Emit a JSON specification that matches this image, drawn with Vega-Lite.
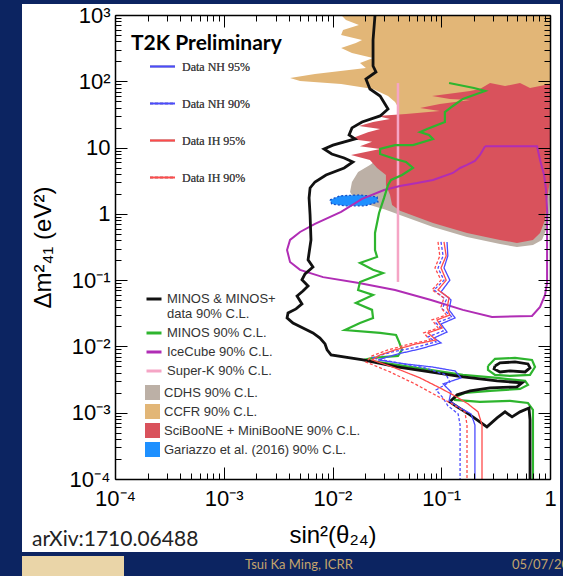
{
"$schema":"https://vega.github.io/schema/vega-lite/v6.json",
"width":435,"height":464,
"autosize":{"type":"none"},
"padding":{"left":115,"top":15,"right":13,"bottom":97},
"background":"#0c2461",
"datasets":{
"ccfr":[
{"experiment":"CCFR 90% C.L.","sin2":0.012,"dm2":1000},{"experiment":"CCFR 90% C.L.","sin2":0.0133,"dm2":841},{"experiment":"CCFR 90% C.L.","sin2":0.0175,"dm2":707},{"experiment":"CCFR 90% C.L.","sin2":0.0125,"dm2":594},{"experiment":"CCFR 90% C.L.","sin2":0.012,"dm2":499},{"experiment":"CCFR 90% C.L.","sin2":0.0187,"dm2":420},{"experiment":"CCFR 90% C.L.","sin2":0.0164,"dm2":378},{"experiment":"CCFR 90% C.L.","sin2":0.012,"dm2":318},{"experiment":"CCFR 90% C.L.","sin2":0.0151,"dm2":268},{"experiment":"CCFR 90% C.L.","sin2":0.0236,"dm2":225},{"experiment":"CCFR 90% C.L.","sin2":0.0179,"dm2":189},{"experiment":"CCFR 90% C.L.","sin2":0.0203,"dm2":159},{"experiment":"CCFR 90% C.L.","sin2":0.0069,"dm2":129},{"experiment":"CCFR 90% C.L.","sin2":0.00407,"dm2":112},{"experiment":"CCFR 90% C.L.","sin2":0.00503,"dm2":101},{"experiment":"CCFR 90% C.L.","sin2":0.012,"dm2":91},{"experiment":"CCFR 90% C.L.","sin2":0.0236,"dm2":76.5},{"experiment":"CCFR 90% C.L.","sin2":0.0324,"dm2":60},{"experiment":"CCFR 90% C.L.","sin2":0.0376,"dm2":48.7},{"experiment":"CCFR 90% C.L.","sin2":0.04,"dm2":40.9},{"experiment":"CCFR 90% C.L.","sin2":0.0417,"dm2":15.5},{"experiment":"CCFR 90% C.L.","sin2":1,"dm2":15.5},{"experiment":"CCFR 90% C.L.","sin2":1,"dm2":1000}],
"cdhs":[
{"experiment":"CDHS 90% C.L.","sin2":0.0338,"dm2":9.2},{"experiment":"CDHS 90% C.L.","sin2":1,"dm2":9.2},{"experiment":"CDHS 90% C.L.","sin2":1,"dm2":1.62},{"experiment":"CDHS 90% C.L.","sin2":0.96,"dm2":0.68},{"experiment":"CDHS 90% C.L.","sin2":0.844,"dm2":0.404},{"experiment":"CDHS 90% C.L.","sin2":0.697,"dm2":0.34},{"experiment":"CDHS 90% C.L.","sin2":0.497,"dm2":0.317},{"experiment":"CDHS 90% C.L.","sin2":0.347,"dm2":0.351},{"experiment":"CDHS 90% C.L.","sin2":0.1725,"dm2":0.448},{"experiment":"CDHS 90% C.L.","sin2":0.084,"dm2":0.635},{"experiment":"CDHS 90% C.L.","sin2":0.0417,"dm2":0.963},{"experiment":"CDHS 90% C.L.","sin2":0.0304,"dm2":1.16},{"experiment":"CDHS 90% C.L.","sin2":0.0221,"dm2":1.36},{"experiment":"CDHS 90% C.L.","sin2":0.0161,"dm2":1.62},{"experiment":"CDHS 90% C.L.","sin2":0.0145,"dm2":2.14},{"experiment":"CDHS 90% C.L.","sin2":0.0151,"dm2":3.03},{"experiment":"CDHS 90% C.L.","sin2":0.0172,"dm2":4.29},{"experiment":"CDHS 90% C.L.","sin2":0.0221,"dm2":5.47},{"experiment":"CDHS 90% C.L.","sin2":0.0338,"dm2":9.2}],
"sbmb":[
{"experiment":"SciBooNE + MiniBooNE 90% C.L.","sin2":1,"dm2":91},{"experiment":"SciBooNE + MiniBooNE 90% C.L.","sin2":0.655,"dm2":79.2},{"experiment":"SciBooNE + MiniBooNE 90% C.L.","sin2":0.53,"dm2":94.3},{"experiment":"SciBooNE + MiniBooNE 90% C.L.","sin2":0.386,"dm2":84.9},{"experiment":"SciBooNE + MiniBooNE 90% C.L.","sin2":0.281,"dm2":94.3},{"experiment":"SciBooNE + MiniBooNE 90% C.L.","sin2":0.227,"dm2":76.5},{"experiment":"SciBooNE + MiniBooNE 90% C.L.","sin2":0.184,"dm2":71.4},{"experiment":"SciBooNE + MiniBooNE 90% C.L.","sin2":0.134,"dm2":66.6},{"experiment":"SciBooNE + MiniBooNE 90% C.L.","sin2":0.0823,"dm2":60},{"experiment":"SciBooNE + MiniBooNE 90% C.L.","sin2":0.12,"dm2":54.1},{"experiment":"SciBooNE + MiniBooNE 90% C.L.","sin2":0.184,"dm2":52.2},{"experiment":"SciBooNE + MiniBooNE 90% C.L.","sin2":0.097,"dm2":45.5},{"experiment":"SciBooNE + MiniBooNE 90% C.L.","sin2":0.0638,"dm2":39.6},{"experiment":"SciBooNE + MiniBooNE 90% C.L.","sin2":0.097,"dm2":35.6},{"experiment":"SciBooNE + MiniBooNE 90% C.L.","sin2":0.0474,"dm2":32.1},{"experiment":"SciBooNE + MiniBooNE 90% C.L.","sin2":0.0257,"dm2":30},{"experiment":"SciBooNE + MiniBooNE 90% C.L.","sin2":0.0338,"dm2":27},{"experiment":"SciBooNE + MiniBooNE 90% C.L.","sin2":0.0236,"dm2":24.3},{"experiment":"SciBooNE + MiniBooNE 90% C.L.","sin2":0.0175,"dm2":21.2},{"experiment":"SciBooNE + MiniBooNE 90% C.L.","sin2":0.0274,"dm2":19.1},{"experiment":"SciBooNE + MiniBooNE 90% C.L.","sin2":0.0212,"dm2":17.1},{"experiment":"SciBooNE + MiniBooNE 90% C.L.","sin2":0.0145,"dm2":13.5},{"experiment":"SciBooNE + MiniBooNE 90% C.L.","sin2":0.0231,"dm2":12.2},{"experiment":"SciBooNE + MiniBooNE 90% C.L.","sin2":0.0179,"dm2":10.5},{"experiment":"SciBooNE + MiniBooNE 90% C.L.","sin2":0.0274,"dm2":9.53},{"experiment":"SciBooNE + MiniBooNE 90% C.L.","sin2":0.0148,"dm2":7.74},{"experiment":"SciBooNE + MiniBooNE 90% C.L.","sin2":0.0221,"dm2":6.5},{"experiment":"SciBooNE + MiniBooNE 90% C.L.","sin2":0.0257,"dm2":4.92},{"experiment":"SciBooNE + MiniBooNE 90% C.L.","sin2":0.031,"dm2":3.86},{"experiment":"SciBooNE + MiniBooNE 90% C.L.","sin2":0.031,"dm2":2.73},{"experiment":"SciBooNE + MiniBooNE 90% C.L.","sin2":0.0338,"dm2":1.93},{"experiment":"SciBooNE + MiniBooNE 90% C.L.","sin2":0.0353,"dm2":1.36},{"experiment":"SciBooNE + MiniBooNE 90% C.L.","sin2":0.0417,"dm2":1.11},{"experiment":"SciBooNE + MiniBooNE 90% C.L.","sin2":0.084,"dm2":0.729},{"experiment":"SciBooNE + MiniBooNE 90% C.L.","sin2":0.1725,"dm2":0.515},{"experiment":"SciBooNE + MiniBooNE 90% C.L.","sin2":0.347,"dm2":0.404},{"experiment":"SciBooNE + MiniBooNE 90% C.L.","sin2":0.497,"dm2":0.364},{"experiment":"SciBooNE + MiniBooNE 90% C.L.","sin2":0.697,"dm2":0.404},{"experiment":"SciBooNE + MiniBooNE 90% C.L.","sin2":0.81,"dm2":0.515},{"experiment":"SciBooNE + MiniBooNE 90% C.L.","sin2":0.9,"dm2":0.809},{"experiment":"SciBooNE + MiniBooNE 90% C.L.","sin2":0.94,"dm2":1.62},{"experiment":"SciBooNE + MiniBooNE 90% C.L.","sin2":1,"dm2":3.25},{"experiment":"SciBooNE + MiniBooNE 90% C.L.","sin2":1,"dm2":91}],
"gariazzo":[
{"experiment":"Gariazzo et al. (2016) 90% C.L.","sin2":0.00948,"dm2":1.62},{"experiment":"Gariazzo et al. (2016) 90% C.L.","sin2":0.0117,"dm2":1.87},{"experiment":"Gariazzo et al. (2016) 90% C.L.","sin2":0.0179,"dm2":1.93},{"experiment":"Gariazzo et al. (2016) 90% C.L.","sin2":0.0257,"dm2":1.8},{"experiment":"Gariazzo et al. (2016) 90% C.L.","sin2":0.0262,"dm2":1.51},{"experiment":"Gariazzo et al. (2016) 90% C.L.","sin2":0.0199,"dm2":1.32},{"experiment":"Gariazzo et al. (2016) 90% C.L.","sin2":0.013,"dm2":1.32},{"experiment":"Gariazzo et al. (2016) 90% C.L.","sin2":0.00984,"dm2":1.41},{"experiment":"Gariazzo et al. (2016) 90% C.L.","sin2":0.00948,"dm2":1.62}],
"superk":[
{"experiment":"Super-K 90% C.L.","sin2":0.04,"dm2":94},{"experiment":"Super-K 90% C.L.","sin2":0.04,"dm2":0.094}],
"icecube":[
{"experiment":"IceCube 90% C.L.","sin2":0.253,"dm2":10.5},{"experiment":"IceCube 90% C.L.","sin2":0.76,"dm2":10.5},{"experiment":"IceCube 90% C.L.","sin2":0.81,"dm2":6.5},{"experiment":"IceCube 90% C.L.","sin2":0.882,"dm2":3.86},{"experiment":"IceCube 90% C.L.","sin2":0.92,"dm2":2.29},{"experiment":"IceCube 90% C.L.","sin2":0.94,"dm2":1.14},{"experiment":"IceCube 90% C.L.","sin2":0.94,"dm2":0.285},{"experiment":"IceCube 90% C.L.","sin2":0.94,"dm2":0.0907},{"experiment":"IceCube 90% C.L.","sin2":0.9,"dm2":0.0598},{"experiment":"IceCube 90% C.L.","sin2":0.81,"dm2":0.0394},{"experiment":"IceCube 90% C.L.","sin2":0.683,"dm2":0.0288},{"experiment":"IceCube 90% C.L.","sin2":0.293,"dm2":0.0278},{"experiment":"IceCube 90% C.L.","sin2":0.158,"dm2":0.0356},{"experiment":"IceCube 90% C.L.","sin2":0.0805,"dm2":0.0503},{"experiment":"IceCube 90% C.L.","sin2":0.0376,"dm2":0.0711},{"experiment":"IceCube 90% C.L.","sin2":0.0175,"dm2":0.0907},{"experiment":"IceCube 90% C.L.","sin2":0.00819,"dm2":0.111},{"experiment":"IceCube 90% C.L.","sin2":0.00503,"dm2":0.143},{"experiment":"IceCube 90% C.L.","sin2":0.00407,"dm2":0.188},{"experiment":"IceCube 90% C.L.","sin2":0.00382,"dm2":0.285},{"experiment":"IceCube 90% C.L.","sin2":0.00407,"dm2":0.404},{"experiment":"IceCube 90% C.L.","sin2":0.00503,"dm2":0.533},{"experiment":"IceCube 90% C.L.","sin2":0.0069,"dm2":0.704},{"experiment":"IceCube 90% C.L.","sin2":0.012,"dm2":1.07},{"experiment":"IceCube 90% C.L.","sin2":0.0187,"dm2":1.68},{"experiment":"IceCube 90% C.L.","sin2":0.0298,"dm2":2.29},{"experiment":"IceCube 90% C.L.","sin2":0.0417,"dm2":2.64},{"experiment":"IceCube 90% C.L.","sin2":0.0599,"dm2":2.92},{"experiment":"IceCube 90% C.L.","sin2":0.084,"dm2":3.25},{"experiment":"IceCube 90% C.L.","sin2":0.128,"dm2":4.14},{"experiment":"IceCube 90% C.L.","sin2":0.149,"dm2":4.92},{"experiment":"IceCube 90% C.L.","sin2":0.1725,"dm2":5.47},{"experiment":"IceCube 90% C.L.","sin2":0.204,"dm2":6.28},{"experiment":"IceCube 90% C.L.","sin2":0.227,"dm2":7.74},{"experiment":"IceCube 90% C.L.","sin2":0.253,"dm2":10.5}],
"minos":[
{"experiment":"MINOS 90% C.L.","part":"main","sin2":0.118,"dm2":94.3},{"experiment":"MINOS 90% C.L.","part":"main","sin2":0.2,"dm2":79.2},{"experiment":"MINOS 90% C.L.","part":"main","sin2":0.253,"dm2":71.4},{"experiment":"MINOS 90% C.L.","part":"main","sin2":0.158,"dm2":54.1},{"experiment":"MINOS 90% C.L.","part":"main","sin2":0.128,"dm2":42.4},{"experiment":"MINOS 90% C.L.","part":"main","sin2":0.108,"dm2":34.4},{"experiment":"MINOS 90% C.L.","part":"main","sin2":0.108,"dm2":24.3},{"experiment":"MINOS 90% C.L.","part":"main","sin2":0.0741,"dm2":19.1},{"experiment":"MINOS 90% C.L.","part":"main","sin2":0.0638,"dm2":17.1},{"experiment":"MINOS 90% C.L.","part":"main","sin2":0.0771,"dm2":15.5},{"experiment":"MINOS 90% C.L.","part":"main","sin2":0.084,"dm2":13.5},{"experiment":"MINOS 90% C.L.","part":"main","sin2":0.055,"dm2":10.9},{"experiment":"MINOS 90% C.L.","part":"main","sin2":0.0376,"dm2":10.9},{"experiment":"MINOS 90% C.L.","part":"main","sin2":0.0274,"dm2":9.53},{"experiment":"MINOS 90% C.L.","part":"main","sin2":0.0274,"dm2":8.0},{"experiment":"MINOS 90% C.L.","part":"main","sin2":0.0376,"dm2":6.73},{"experiment":"MINOS 90% C.L.","part":"main","sin2":0.0474,"dm2":6.06},{"experiment":"MINOS 90% C.L.","part":"main","sin2":0.055,"dm2":4.92},{"experiment":"MINOS 90% C.L.","part":"main","sin2":0.0436,"dm2":3.86},{"experiment":"MINOS 90% C.L.","part":"main","sin2":0.0345,"dm2":3.25},{"experiment":"MINOS 90% C.L.","part":"main","sin2":0.0324,"dm2":2.73},{"experiment":"MINOS 90% C.L.","part":"main","sin2":0.0298,"dm2":1.74},{"experiment":"MINOS 90% C.L.","part":"main","sin2":0.0268,"dm2":1.03},{"experiment":"MINOS 90% C.L.","part":"main","sin2":0.0246,"dm2":0.515},{"experiment":"MINOS 90% C.L.","part":"main","sin2":0.0246,"dm2":0.285},{"experiment":"MINOS 90% C.L.","part":"main","sin2":0.0257,"dm2":0.224},{"experiment":"MINOS 90% C.L.","part":"main","sin2":0.0179,"dm2":0.182},{"experiment":"MINOS 90% C.L.","part":"main","sin2":0.0236,"dm2":0.143},{"experiment":"MINOS 90% C.L.","part":"main","sin2":0.0291,"dm2":0.128},{"experiment":"MINOS 90% C.L.","part":"main","sin2":0.0179,"dm2":0.0939},{"experiment":"MINOS 90% C.L.","part":"main","sin2":0.0172,"dm2":0.0711},{"experiment":"MINOS 90% C.L.","part":"main","sin2":0.0236,"dm2":0.0598},{"experiment":"MINOS 90% C.L.","part":"main","sin2":0.0164,"dm2":0.0453},{"experiment":"MINOS 90% C.L.","part":"main","sin2":0.0231,"dm2":0.0356},{"experiment":"MINOS 90% C.L.","part":"main","sin2":0.0236,"dm2":0.0269},{"experiment":"MINOS 90% C.L.","part":"main","sin2":0.0179,"dm2":0.0226},{"experiment":"MINOS 90% C.L.","part":"main","sin2":0.013,"dm2":0.0177},{"experiment":"MINOS 90% C.L.","part":"main","sin2":0.0274,"dm2":0.016},{"experiment":"MINOS 90% C.L.","part":"main","sin2":0.0384,"dm2":0.0149},{"experiment":"MINOS 90% C.L.","part":"main","sin2":0.0409,"dm2":0.0117},{"experiment":"MINOS 90% C.L.","part":"main","sin2":0.0436,"dm2":0.00886},{"experiment":"MINOS 90% C.L.","part":"main","sin2":0.04,"dm2":0.00719},{"experiment":"MINOS 90% C.L.","part":"main","sin2":0.0236,"dm2":0.00671},{"experiment":"MINOS 90% C.L.","part":"main","sin2":0.0195,"dm2":0.00626},{"experiment":"MINOS 90% C.L.","part":"main","sin2":0.0392,"dm2":0.00526},{"experiment":"MINOS 90% C.L.","part":"main","sin2":0.0788,"dm2":0.00442},{"experiment":"MINOS 90% C.L.","part":"main","sin2":0.158,"dm2":0.00372},{"experiment":"MINOS 90% C.L.","part":"main","sin2":0.326,"dm2":0.00335},{"experiment":"MINOS 90% C.L.","part":"main","sin2":0.59,"dm2":0.00302},{"experiment":"MINOS 90% C.L.","part":"main","sin2":0.627,"dm2":0.00263},{"experiment":"MINOS 90% C.L.","part":"main","sin2":0.53,"dm2":0.00229},{"experiment":"MINOS 90% C.L.","part":"main","sin2":0.281,"dm2":0.00213},{"experiment":"MINOS 90% C.L.","part":"main","sin2":0.165,"dm2":0.00199},{"experiment":"MINOS 90% C.L.","part":"main","sin2":0.134,"dm2":0.00173},{"experiment":"MINOS 90% C.L.","part":"main","sin2":0.134,"dm2":0.00156},{"experiment":"MINOS 90% C.L.","part":"main","sin2":0.227,"dm2":0.00146},{"experiment":"MINOS 90% C.L.","part":"main","sin2":0.429,"dm2":0.00151},{"experiment":"MINOS 90% C.L.","part":"main","sin2":0.627,"dm2":0.0014},{"experiment":"MINOS 90% C.L.","part":"main","sin2":0.697,"dm2":0.0011},{"experiment":"MINOS 90% C.L.","part":"main","sin2":0.697,"dm2":0.0001},
{"experiment":"MINOS 90% C.L.","part":"loop","sin2":0.269,"dm2":0.00508},{"experiment":"MINOS 90% C.L.","part":"loop","sin2":0.312,"dm2":0.0065},{"experiment":"MINOS 90% C.L.","part":"loop","sin2":0.477,"dm2":0.00671},{"experiment":"MINOS 90% C.L.","part":"loop","sin2":0.683,"dm2":0.00626},{"experiment":"MINOS 90% C.L.","part":"loop","sin2":0.728,"dm2":0.0049},{"experiment":"MINOS 90% C.L.","part":"loop","sin2":0.655,"dm2":0.00372},{"experiment":"MINOS 90% C.L.","part":"loop","sin2":0.429,"dm2":0.00359},{"experiment":"MINOS 90% C.L.","part":"loop","sin2":0.312,"dm2":0.00372},{"experiment":"MINOS 90% C.L.","part":"loop","sin2":0.269,"dm2":0.00442},{"experiment":"MINOS 90% C.L.","part":"loop","sin2":0.269,"dm2":0.00508}],
"minosplus":[
{"experiment":"MINOS & MINOS+ data 90% C.L.","part":"main","sin2":0.0246,"dm2":1000},{"experiment":"MINOS & MINOS+ data 90% C.L.","part":"main","sin2":0.0236,"dm2":420},{"experiment":"MINOS & MINOS+ data 90% C.L.","part":"main","sin2":0.0236,"dm2":170},{"experiment":"MINOS & MINOS+ data 90% C.L.","part":"main","sin2":0.0251,"dm2":138},{"experiment":"MINOS & MINOS+ data 90% C.L.","part":"main","sin2":0.0203,"dm2":108},{"experiment":"MINOS & MINOS+ data 90% C.L.","part":"main","sin2":0.0221,"dm2":76.5},{"experiment":"MINOS & MINOS+ data 90% C.L.","part":"main","sin2":0.0274,"dm2":60},{"experiment":"MINOS & MINOS+ data 90% C.L.","part":"main","sin2":0.0324,"dm2":38.2},{"experiment":"MINOS & MINOS+ data 90% C.L.","part":"main","sin2":0.0274,"dm2":30},{"experiment":"MINOS & MINOS+ data 90% C.L.","part":"main","sin2":0.0187,"dm2":24.3},{"experiment":"MINOS & MINOS+ data 90% C.L.","part":"main","sin2":0.0151,"dm2":19.8},{"experiment":"MINOS & MINOS+ data 90% C.L.","part":"main","sin2":0.0142,"dm2":15.5},{"experiment":"MINOS & MINOS+ data 90% C.L.","part":"main","sin2":0.0161,"dm2":13.5},{"experiment":"MINOS & MINOS+ data 90% C.L.","part":"main","sin2":0.0101,"dm2":10.9},{"experiment":"MINOS & MINOS+ data 90% C.L.","part":"main","sin2":0.00836,"dm2":9.53},{"experiment":"MINOS & MINOS+ data 90% C.L.","part":"main","sin2":0.00984,"dm2":8.0},{"experiment":"MINOS & MINOS+ data 90% C.L.","part":"main","sin2":0.0128,"dm2":6.97},{"experiment":"MINOS & MINOS+ data 90% C.L.","part":"main","sin2":0.0154,"dm2":6.06},{"experiment":"MINOS & MINOS+ data 90% C.L.","part":"main","sin2":0.0128,"dm2":4.92},{"experiment":"MINOS & MINOS+ data 90% C.L.","part":"main","sin2":0.00872,"dm2":3.86},{"experiment":"MINOS & MINOS+ data 90% C.L.","part":"main","sin2":0.0069,"dm2":3.03},{"experiment":"MINOS & MINOS+ data 90% C.L.","part":"main","sin2":0.00622,"dm2":2.46},{"experiment":"MINOS & MINOS+ data 90% C.L.","part":"main","sin2":0.00609,"dm2":1.74},{"experiment":"MINOS & MINOS+ data 90% C.L.","part":"main","sin2":0.00622,"dm2":0.963},{"experiment":"MINOS & MINOS+ data 90% C.L.","part":"main","sin2":0.00634,"dm2":0.404},{"experiment":"MINOS & MINOS+ data 90% C.L.","part":"main","sin2":0.00596,"dm2":0.202},{"experiment":"MINOS & MINOS+ data 90% C.L.","part":"main","sin2":0.00661,"dm2":0.158},{"experiment":"MINOS & MINOS+ data 90% C.L.","part":"main","sin2":0.00559,"dm2":0.124},{"experiment":"MINOS & MINOS+ data 90% C.L.","part":"main","sin2":0.00524,"dm2":0.101},{"experiment":"MINOS & MINOS+ data 90% C.L.","part":"main","sin2":0.00596,"dm2":0.0817},{"experiment":"MINOS & MINOS+ data 90% C.L.","part":"main","sin2":0.00535,"dm2":0.0687},{"experiment":"MINOS & MINOS+ data 90% C.L.","part":"main","sin2":0.00472,"dm2":0.0578},{"experiment":"MINOS & MINOS+ data 90% C.L.","part":"main","sin2":0.00524,"dm2":0.0438},{"experiment":"MINOS & MINOS+ data 90% C.L.","part":"main","sin2":0.00462,"dm2":0.0368},{"experiment":"MINOS & MINOS+ data 90% C.L.","part":"main","sin2":0.0039,"dm2":0.032},{"experiment":"MINOS & MINOS+ data 90% C.L.","part":"main","sin2":0.00382,"dm2":0.0269},{"experiment":"MINOS & MINOS+ data 90% C.L.","part":"main","sin2":0.00433,"dm2":0.0226},{"experiment":"MINOS & MINOS+ data 90% C.L.","part":"main","sin2":0.00535,"dm2":0.019},{"experiment":"MINOS & MINOS+ data 90% C.L.","part":"main","sin2":0.00661,"dm2":0.016},{"experiment":"MINOS & MINOS+ data 90% C.L.","part":"main","sin2":0.00767,"dm2":0.0134},{"experiment":"MINOS & MINOS+ data 90% C.L.","part":"main","sin2":0.00854,"dm2":0.0109},{"experiment":"MINOS & MINOS+ data 90% C.L.","part":"main","sin2":0.00892,"dm2":0.00886},{"experiment":"MINOS & MINOS+ data 90% C.L.","part":"main","sin2":0.0097,"dm2":0.00744},{"experiment":"MINOS & MINOS+ data 90% C.L.","part":"main","sin2":0.0191,"dm2":0.00626},{"experiment":"MINOS & MINOS+ data 90% C.L.","part":"main","sin2":0.0392,"dm2":0.0049},{"experiment":"MINOS & MINOS+ data 90% C.L.","part":"main","sin2":0.0788,"dm2":0.00412},{"experiment":"MINOS & MINOS+ data 90% C.L.","part":"main","sin2":0.158,"dm2":0.00347},{"experiment":"MINOS & MINOS+ data 90% C.L.","part":"main","sin2":0.326,"dm2":0.00302},{"experiment":"MINOS & MINOS+ data 90% C.L.","part":"main","sin2":0.553,"dm2":0.00282},{"experiment":"MINOS & MINOS+ data 90% C.L.","part":"main","sin2":0.497,"dm2":0.00245},{"experiment":"MINOS & MINOS+ data 90% C.L.","part":"main","sin2":0.281,"dm2":0.00237},{"experiment":"MINOS & MINOS+ data 90% C.L.","part":"main","sin2":0.184,"dm2":0.00213},{"experiment":"MINOS & MINOS+ data 90% C.L.","part":"main","sin2":0.14,"dm2":0.00186},{"experiment":"MINOS & MINOS+ data 90% C.L.","part":"main","sin2":0.12,"dm2":0.00146},{"experiment":"MINOS & MINOS+ data 90% C.L.","part":"main","sin2":0.14,"dm2":0.00123},{"experiment":"MINOS & MINOS+ data 90% C.L.","part":"main","sin2":0.184,"dm2":0.000927},{"experiment":"MINOS & MINOS+ data 90% C.L.","part":"main","sin2":0.263,"dm2":0.000611},{"experiment":"MINOS & MINOS+ data 90% C.L.","part":"main","sin2":0.326,"dm2":0.000835},{"experiment":"MINOS & MINOS+ data 90% C.L.","part":"main","sin2":0.386,"dm2":0.00103},{"experiment":"MINOS & MINOS+ data 90% C.L.","part":"main","sin2":0.448,"dm2":0.000864},{"experiment":"MINOS & MINOS+ data 90% C.L.","part":"main","sin2":0.53,"dm2":0.00103},{"experiment":"MINOS & MINOS+ data 90% C.L.","part":"main","sin2":0.641,"dm2":0.00118},{"experiment":"MINOS & MINOS+ data 90% C.L.","part":"main","sin2":0.655,"dm2":0.000779},{"experiment":"MINOS & MINOS+ data 90% C.L.","part":"main","sin2":0.655,"dm2":0.0001},
{"experiment":"MINOS & MINOS+ data 90% C.L.","part":"loop","sin2":0.312,"dm2":0.00508},{"experiment":"MINOS & MINOS+ data 90% C.L.","part":"loop","sin2":0.347,"dm2":0.00564},{"experiment":"MINOS & MINOS+ data 90% C.L.","part":"loop","sin2":0.477,"dm2":0.00584},{"experiment":"MINOS & MINOS+ data 90% C.L.","part":"loop","sin2":0.627,"dm2":0.00545},{"experiment":"MINOS & MINOS+ data 90% C.L.","part":"loop","sin2":0.655,"dm2":0.00474},{"experiment":"MINOS & MINOS+ data 90% C.L.","part":"loop","sin2":0.59,"dm2":0.00412},{"experiment":"MINOS & MINOS+ data 90% C.L.","part":"loop","sin2":0.429,"dm2":0.00427},{"experiment":"MINOS & MINOS+ data 90% C.L.","part":"loop","sin2":0.347,"dm2":0.00412},{"experiment":"MINOS & MINOS+ data 90% C.L.","part":"loop","sin2":0.306,"dm2":0.00458},{"experiment":"MINOS & MINOS+ data 90% C.L.","part":"loop","sin2":0.312,"dm2":0.00508}],
"t2k":[
{"series":"Data NH 95%","sin2":0.113,"dm2":0.377},{"series":"Data NH 95%","sin2":0.115,"dm2":0.232},{"series":"Data NH 95%","sin2":0.106,"dm2":0.153},{"series":"Data NH 95%","sin2":0.12,"dm2":0.1},{"series":"Data NH 95%","sin2":0.0995,"dm2":0.0664},{"series":"Data NH 95%","sin2":0.123,"dm2":0.0503},{"series":"Data NH 95%","sin2":0.118,"dm2":0.0356},{"series":"Data NH 95%","sin2":0.134,"dm2":0.0269},{"series":"Data NH 95%","sin2":0.0995,"dm2":0.0218},{"series":"Data NH 95%","sin2":0.113,"dm2":0.0165},{"series":"Data NH 95%","sin2":0.0858,"dm2":0.0134},{"series":"Data NH 95%","sin2":0.0995,"dm2":0.0113},{"series":"Data NH 95%","sin2":0.0638,"dm2":0.00917},{"series":"Data NH 95%","sin2":0.04,"dm2":0.00771},{"series":"Data NH 95%","sin2":0.0262,"dm2":0.00626},{"series":"Data NH 95%","sin2":0.0464,"dm2":0.00545},{"series":"Data NH 95%","sin2":0.0823,"dm2":0.0049},{"series":"Data NH 95%","sin2":0.134,"dm2":0.00427},{"series":"Data NH 95%","sin2":0.152,"dm2":0.00335},{"series":"Data NH 95%","sin2":0.104,"dm2":0.00272},{"series":"Data NH 95%","sin2":0.123,"dm2":0.00206},{"series":"Data NH 95%","sin2":0.118,"dm2":0.00151},{"series":"Data NH 95%","sin2":0.149,"dm2":0.00118},{"series":"Data NH 95%","sin2":0.188,"dm2":0.00096},{"series":"Data NH 95%","sin2":0.204,"dm2":0.000655},{"series":"Data NH 95%","sin2":0.204,"dm2":0.000275},{"series":"Data NH 95%","sin2":0.204,"dm2":0.0001},
{"series":"Data NH 90%","sin2":0.0995,"dm2":0.377},{"series":"Data NH 90%","sin2":0.104,"dm2":0.232},{"series":"Data NH 90%","sin2":0.0934,"dm2":0.153},{"series":"Data NH 90%","sin2":0.106,"dm2":0.1},{"series":"Data NH 90%","sin2":0.0858,"dm2":0.0711},{"series":"Data NH 90%","sin2":0.111,"dm2":0.0503},{"series":"Data NH 90%","sin2":0.102,"dm2":0.0368},{"series":"Data NH 90%","sin2":0.126,"dm2":0.0278},{"series":"Data NH 90%","sin2":0.0897,"dm2":0.0226},{"series":"Data NH 90%","sin2":0.104,"dm2":0.0171},{"series":"Data NH 90%","sin2":0.0755,"dm2":0.0139},{"series":"Data NH 90%","sin2":0.0897,"dm2":0.0117},{"series":"Data NH 90%","sin2":0.055,"dm2":0.00949},{"series":"Data NH 90%","sin2":0.0353,"dm2":0.00826},{"series":"Data NH 90%","sin2":0.0231,"dm2":0.00671},{"series":"Data NH 90%","sin2":0.04,"dm2":0.00564},{"series":"Data NH 90%","sin2":0.0709,"dm2":0.00474},{"series":"Data NH 90%","sin2":0.111,"dm2":0.00372},{"series":"Data NH 90%","sin2":0.12,"dm2":0.00292},{"series":"Data NH 90%","sin2":0.0897,"dm2":0.00221},{"series":"Data NH 90%","sin2":0.104,"dm2":0.00167},{"series":"Data NH 90%","sin2":0.115,"dm2":0.00127},{"series":"Data NH 90%","sin2":0.143,"dm2":0.00096},{"series":"Data NH 90%","sin2":0.149,"dm2":0.000655},{"series":"Data NH 90%","sin2":0.149,"dm2":0.000275},{"series":"Data NH 90%","sin2":0.149,"dm2":0.0001},
{"series":"Data IH 95%","sin2":0.106,"dm2":0.377},{"series":"Data IH 95%","sin2":0.111,"dm2":0.232},{"series":"Data IH 95%","sin2":0.0995,"dm2":0.153},{"series":"Data IH 95%","sin2":0.111,"dm2":0.1},{"series":"Data IH 95%","sin2":0.0934,"dm2":0.0711},{"series":"Data IH 95%","sin2":0.118,"dm2":0.054},{"series":"Data IH 95%","sin2":0.113,"dm2":0.0381},{"series":"Data IH 95%","sin2":0.12,"dm2":0.0298},{"series":"Data IH 95%","sin2":0.0915,"dm2":0.0251},{"series":"Data IH 95%","sin2":0.102,"dm2":0.019},{"series":"Data IH 95%","sin2":0.0755,"dm2":0.016},{"series":"Data IH 95%","sin2":0.0897,"dm2":0.0125},{"series":"Data IH 95%","sin2":0.0586,"dm2":0.0109},{"series":"Data IH 95%","sin2":0.0376,"dm2":0.00886},{"series":"Data IH 95%","sin2":0.0274,"dm2":0.00744},{"series":"Data IH 95%","sin2":0.0231,"dm2":0.00626},{"series":"Data IH 95%","sin2":0.0376,"dm2":0.00474},{"series":"Data IH 95%","sin2":0.0638,"dm2":0.00335},{"series":"Data IH 95%","sin2":0.097,"dm2":0.00237},{"series":"Data IH 95%","sin2":0.134,"dm2":0.00179},{"series":"Data IH 95%","sin2":0.176,"dm2":0.00136},{"series":"Data IH 95%","sin2":0.218,"dm2":0.00103},{"series":"Data IH 95%","sin2":0.237,"dm2":0.000655},{"series":"Data IH 95%","sin2":0.237,"dm2":0.000275},{"series":"Data IH 95%","sin2":0.237,"dm2":0.0001},
{"series":"Data IH 90%","sin2":0.0934,"dm2":0.377},{"series":"Data IH 90%","sin2":0.097,"dm2":0.232},{"series":"Data IH 90%","sin2":0.0876,"dm2":0.153},{"series":"Data IH 90%","sin2":0.0995,"dm2":0.1},{"series":"Data IH 90%","sin2":0.0823,"dm2":0.0711},{"series":"Data IH 90%","sin2":0.106,"dm2":0.054},{"series":"Data IH 90%","sin2":0.0995,"dm2":0.0394},{"series":"Data IH 90%","sin2":0.111,"dm2":0.0298},{"series":"Data IH 90%","sin2":0.0823,"dm2":0.0251},{"series":"Data IH 90%","sin2":0.0934,"dm2":0.019},{"series":"Data IH 90%","sin2":0.069,"dm2":0.016},{"series":"Data IH 90%","sin2":0.0788,"dm2":0.0125},{"series":"Data IH 90%","sin2":0.0516,"dm2":0.0109},{"series":"Data IH 90%","sin2":0.0324,"dm2":0.00886},{"series":"Data IH 90%","sin2":0.0231,"dm2":0.00719},{"series":"Data IH 90%","sin2":0.0203,"dm2":0.00584},{"series":"Data IH 90%","sin2":0.0338,"dm2":0.00412},{"series":"Data IH 90%","sin2":0.0574,"dm2":0.00272},{"series":"Data IH 90%","sin2":0.0915,"dm2":0.00179},{"series":"Data IH 90%","sin2":0.126,"dm2":0.00136},{"series":"Data IH 90%","sin2":0.165,"dm2":0.00103},{"series":"Data IH 90%","sin2":0.1725,"dm2":0.000655},{"series":"Data IH 90%","sin2":0.1725,"dm2":0.000275},{"series":"Data IH 90%","sin2":0.1725,"dm2":0.0001}]
},
"layer":[
{"data":{"values":[{"part":"slide panel"}]},"mark":{"type":"rect","fill":"#ffffff"},
"encoding":{"x":{"datum":1.396e-5,"type":"quantitative","scale":{"type":"log","domain":[0.0001,1],"nice":false},"axis":null},"x2":{"datum":1.236},"y":{"datum":1466,"type":"quantitative","scale":{"type":"log","domain":[0.0001,1000],"nice":false},"axis":null},"y2":{"datum":7.94e-6}}},
{"data":{"values":[{"part":"footer logo"}]},"mark":{"type":"rect","fill":"#ead5a8"},
"encoding":{"x":{"datum":1.396e-5,"type":"quantitative","scale":{"type":"log","domain":[0.0001,1],"nice":false},"axis":null},"x2":{"datum":1.21e-4},"y":{"datum":6.92e-6,"type":"quantitative","scale":{"type":"log","domain":[0.0001,1000],"nice":false},"axis":null},"y2":{"datum":2.5e-6}}},
{"data":{"name":"ccfr"},"mark":{"type":"line","stroke":"transparent","strokeWidth":0},
"encoding":{
"x":{"field":"sin2","type":"quantitative","scale":{"type":"log","domain":[0.0001,1],"nice":false},
"axis":{"orient":"bottom","values":[0.0001,0.0002,0.0003,0.0004,0.0005,0.0006,0.0007,0.0008,0.0009,0.001,0.002,0.003,0.004,0.005,0.006,0.007,0.008,0.009,0.01,0.02,0.03,0.04,0.05,0.06,0.07,0.08,0.09,0.1,0.2,0.3,0.4,0.5,0.6,0.7,0.8,0.9,1],
"labelExpr":"datum.value == 0.0001 ? '10⁻⁴' : datum.value == 0.001 ? '10⁻³' : datum.value == 0.01 ? '10⁻²' : datum.value == 0.1 ? '10⁻¹' : datum.value == 1 ? '1' : ''",
"labelFont":"Liberation Sans","labelFontSize":22,"labelColor":"#000000","labelPadding":21,"labelFlush":false,"labelOverlap":false,"labelBound":false,
"tickSize":{"condition":{"test":"indexof([0.0001,0.001,0.01,0.1,1], datum.value) >= 0","value":-12},"value":-6},
"tickColor":"#000000","tickWidth":1,"domainColor":"#000000","domainWidth":1.5,"grid":false,"zindex":1,
"title":"sin²(θ₂₄)","titleFont":"Liberation Sans","titleFontSize":24,"titleFontWeight":"normal","titleColor":"#000000","titlePadding":8}},
"y":{"field":"dm2","type":"quantitative","scale":{"type":"log","domain":[0.0001,1000],"nice":false},
"axis":{"orient":"left","values":[0.0001,0.0002,0.0003,0.0004,0.0005,0.0006,0.0007,0.0008,0.0009,0.001,0.002,0.003,0.004,0.005,0.006,0.007,0.008,0.009,0.01,0.02,0.03,0.04,0.05,0.06,0.07,0.08,0.09,0.1,0.2,0.3,0.4,0.5,0.6,0.7,0.8,0.9,1,2,3,4,5,6,7,8,9,10,20,30,40,50,60,70,80,90,100,200,300,400,500,600,700,800,900,1000],
"labelExpr":"datum.value == 1000 ? '10³' : datum.value == 100 ? '10²' : datum.value == 10 ? '10' : datum.value == 1 ? '1' : datum.value == 0.1 ? '10⁻¹' : datum.value == 0.01 ? '10⁻²' : datum.value == 0.001 ? '10⁻³' : datum.value == 0.0001 ? '10⁻⁴' : ''",
"labelFont":"Liberation Sans","labelFontSize":22,"labelColor":"#000000","labelPadding":17,"labelFlush":false,"labelOverlap":false,"labelBound":false,
"tickSize":{"condition":{"test":"indexof([0.0001,0.001,0.01,0.1,1,10,100,1000], datum.value) >= 0","value":-12},"value":-6},
"tickColor":"#000000","tickWidth":1,"domainColor":"#000000","domainWidth":1.5,"grid":false,"zindex":1,
"title":"Δm²₄₁ (eV²)","titleFont":"Liberation Sans","titleFontSize":24,"titleFontWeight":"normal","titleColor":"#000000","titlePadding":14}},
"fill":{"field":"experiment","type":"nominal","scale":{"domain":["CDHS 90% C.L.","CCFR 90% C.L.","SciBooNE + MiniBooNE 90% C.L.","Gariazzo et al. (2016) 90% C.L."],"range":["#bcb0a6","#e2b677","#d9525c","#1e90ff"]},
"legend":{"title":null,"orient":"none","legendX":30,"legendY":370,"padding":0,"symbolType":"square","symbolSize":225,"symbolStrokeWidth":0,"labelFont":"Liberation Sans","labelFontSize":13,"labelColor":"#333333","labelOffset":4,"rowPadding":4,"labelLimit":400,
"encode":{"symbols":{"update":{"stroke":{"signal":"datum.value === 'Gariazzo et al. (2016) 90% C.L.' ? '#1450c8' : 'transparent'"},"strokeWidth":{"value":1.5},"strokeDash":{"value":[2,1.5]}}}}}},
"order":{"value":null}}},
{"data":{"name":"cdhs"},"mark":{"type":"line","stroke":"transparent","strokeWidth":0},
"encoding":{"x":{"field":"sin2","type":"quantitative","scale":{"type":"log","domain":[0.0001,1],"nice":false},"axis":null},"y":{"field":"dm2","type":"quantitative","scale":{"type":"log","domain":[0.0001,1000],"nice":false},"axis":null},
"fill":{"field":"experiment","type":"nominal","scale":{"domain":["CDHS 90% C.L.","CCFR 90% C.L.","SciBooNE + MiniBooNE 90% C.L.","Gariazzo et al. (2016) 90% C.L."],"range":["#bcb0a6","#e2b677","#d9525c","#1e90ff"]}},"order":{"value":null}}},
{"data":{"name":"sbmb"},"mark":{"type":"line","stroke":"transparent","strokeWidth":0},
"encoding":{"x":{"field":"sin2","type":"quantitative","scale":{"type":"log","domain":[0.0001,1],"nice":false},"axis":null},"y":{"field":"dm2","type":"quantitative","scale":{"type":"log","domain":[0.0001,1000],"nice":false},"axis":null},
"fill":{"field":"experiment","type":"nominal","scale":{"domain":["CDHS 90% C.L.","CCFR 90% C.L.","SciBooNE + MiniBooNE 90% C.L.","Gariazzo et al. (2016) 90% C.L."],"range":["#bcb0a6","#e2b677","#d9525c","#1e90ff"]}},"order":{"value":null}}},
{"data":{"name":"gariazzo"},"mark":{"type":"line","stroke":"#1450c8","strokeWidth":1.3,"strokeDash":[2,2]},
"encoding":{"x":{"field":"sin2","type":"quantitative","scale":{"type":"log","domain":[0.0001,1],"nice":false},"axis":null},"y":{"field":"dm2","type":"quantitative","scale":{"type":"log","domain":[0.0001,1000],"nice":false},"axis":null},
"fill":{"field":"experiment","type":"nominal","scale":{"domain":["CDHS 90% C.L.","CCFR 90% C.L.","SciBooNE + MiniBooNE 90% C.L.","Gariazzo et al. (2016) 90% C.L."],"range":["#bcb0a6","#e2b677","#d9525c","#1e90ff"]}},"order":{"value":null}}},
{"layer":[
{"data":{"name":"superk"},"mark":{"type":"line","strokeWidth":2.5},
"encoding":{"x":{"field":"sin2","type":"quantitative","scale":{"type":"log","domain":[0.0001,1],"nice":false},"axis":null},"y":{"field":"dm2","type":"quantitative","scale":{"type":"log","domain":[0.0001,1000],"nice":false},"axis":null},
"stroke":{"field":"experiment","type":"nominal","scale":{"domain":["MINOS & MINOS+ data 90% C.L.","MINOS 90% C.L.","IceCube 90% C.L.","Super-K 90% C.L."],"range":["#111111","#2eb52e","#b02db5","#f5a5c5"]},
"legend":{"title":null,"orient":"none","legendX":30,"legendY":275,"padding":0,"symbolType":"stroke","symbolSize":225,"symbolStrokeWidth":3,"labelFont":"Liberation Sans","labelFontSize":13,"labelColor":"#333333","labelOffset":4,"rowPadding":3,"labelLimit":400,
"labelExpr":"datum.label == 'MINOS & MINOS+ data 90% C.L.' ? ['MINOS & MINOS+', 'data 90% C.L.'] : datum.label"}},
"order":{"value":null}}},
{"data":{"name":"icecube"},"mark":{"type":"line","strokeWidth":2},
"encoding":{"x":{"field":"sin2","type":"quantitative","scale":{"type":"log","domain":[0.0001,1],"nice":false},"axis":null},"y":{"field":"dm2","type":"quantitative","scale":{"type":"log","domain":[0.0001,1000],"nice":false},"axis":null},
"stroke":{"field":"experiment","type":"nominal","scale":{"domain":["MINOS & MINOS+ data 90% C.L.","MINOS 90% C.L.","IceCube 90% C.L.","Super-K 90% C.L."],"range":["#111111","#2eb52e","#b02db5","#f5a5c5"]}},"order":{"value":null}}},
{"data":{"name":"minos"},"mark":{"type":"line","strokeWidth":2.2},
"encoding":{"x":{"field":"sin2","type":"quantitative","scale":{"type":"log","domain":[0.0001,1],"nice":false},"axis":null},"y":{"field":"dm2","type":"quantitative","scale":{"type":"log","domain":[0.0001,1000],"nice":false},"axis":null},
"stroke":{"field":"experiment","type":"nominal","scale":{"domain":["MINOS & MINOS+ data 90% C.L.","MINOS 90% C.L.","IceCube 90% C.L.","Super-K 90% C.L."],"range":["#111111","#2eb52e","#b02db5","#f5a5c5"]}},"detail":{"field":"part"},"order":{"value":null}}},
{"data":{"name":"minosplus"},"mark":{"type":"line","strokeWidth":2.8},
"encoding":{"x":{"field":"sin2","type":"quantitative","scale":{"type":"log","domain":[0.0001,1],"nice":false},"axis":null},"y":{"field":"dm2","type":"quantitative","scale":{"type":"log","domain":[0.0001,1000],"nice":false},"axis":null},
"stroke":{"field":"experiment","type":"nominal","scale":{"domain":["MINOS & MINOS+ data 90% C.L.","MINOS 90% C.L.","IceCube 90% C.L.","Super-K 90% C.L."],"range":["#111111","#2eb52e","#b02db5","#f5a5c5"]}},"detail":{"field":"part"},"order":{"value":null}}}
]},
{"data":{"name":"t2k"},"mark":{"type":"line","strokeWidth":1.3},
"encoding":{
"x":{"field":"sin2","type":"quantitative","scale":{"type":"log","domain":[0.0001,1],"nice":false},
"axis":{"orient":"top","values":[0.0001,0.0002,0.0003,0.0004,0.0005,0.0006,0.0007,0.0008,0.0009,0.001,0.002,0.003,0.004,0.005,0.006,0.007,0.008,0.009,0.01,0.02,0.03,0.04,0.05,0.06,0.07,0.08,0.09,0.1,0.2,0.3,0.4,0.5,0.6,0.7,0.8,0.9,1],"labels":false,"title":null,
"tickSize":{"condition":{"test":"indexof([0.0001,0.001,0.01,0.1,1], datum.value) >= 0","value":-12},"value":-6},"tickColor":"#000000","tickWidth":1,"domainColor":"#000000","domainWidth":1.5,"grid":false,"zindex":1}},
"y":{"field":"dm2","type":"quantitative","scale":{"type":"log","domain":[0.0001,1000],"nice":false},
"axis":{"orient":"right","values":[0.0001,0.0002,0.0003,0.0004,0.0005,0.0006,0.0007,0.0008,0.0009,0.001,0.002,0.003,0.004,0.005,0.006,0.007,0.008,0.009,0.01,0.02,0.03,0.04,0.05,0.06,0.07,0.08,0.09,0.1,0.2,0.3,0.4,0.5,0.6,0.7,0.8,0.9,1,2,3,4,5,6,7,8,9,10,20,30,40,50,60,70,80,90,100,200,300,400,500,600,700,800,900,1000],"labels":false,"title":null,
"tickSize":{"condition":{"test":"indexof([0.0001,0.001,0.01,0.1,1,10,100,1000], datum.value) >= 0","value":-12},"value":-6},"tickColor":"#000000","tickWidth":1,"domainColor":"#000000","domainWidth":1.5,"grid":false,"zindex":1}},
"stroke":{"field":"series","type":"nominal","scale":{"domain":["Data NH 95%","Data NH 90%","Data IH 95%","Data IH 90%"],"range":["#4b4bff","#4b4bff","#ff4b4b","#ff4b4b"]},
"legend":{"title":null,"orient":"none","legendX":34,"legendY":38,"padding":0,"symbolType":"stroke","symbolSize":625,"symbolStrokeWidth":2,"labelFont":"Liberation Serif","labelFontSize":12,"labelColor":"#444444","labelOffset":6,"rowPadding":17,"labelLimit":300}},
"strokeDash":{"field":"series","type":"nominal","scale":{"domain":["Data NH 95%","Data NH 90%","Data IH 95%","Data IH 90%"],"range":[[1,0],[3,2],[1,0],[3,2]]},
"legend":{"title":null,"orient":"none","legendX":34,"legendY":38,"padding":0,"symbolType":"stroke","symbolSize":625,"symbolStrokeWidth":2,"labelFont":"Liberation Serif","labelFontSize":12,"labelColor":"#444444","labelOffset":6,"rowPadding":17,"labelLimit":300}},
"order":{"value":null}}},
{"data":{"values":[{"label":"T2K Preliminary"}]},"mark":{"type":"text","align":"left","baseline":"alphabetic","font":"Lato","fontSize":21,"fontWeight":"bold","fill":"#000000"},
"encoding":{"x":{"datum":1.403e-4,"type":"quantitative","scale":{"type":"log","domain":[0.0001,1],"nice":false},"axis":null},"y":{"datum":296.6,"type":"quantitative","scale":{"type":"log","domain":[0.0001,1000],"nice":false},"axis":null},"text":{"field":"label"}}},
{"data":{"values":[{"label":"arXiv:1710.06488"}]},"mark":{"type":"text","align":"left","baseline":"alphabetic","font":"Lato","fontSize":21,"fill":"#222222"},
"encoding":{"x":{"datum":1.726e-5,"type":"quantitative","scale":{"type":"log","domain":[0.0001,1],"nice":false},"axis":null},"y":{"datum":9.8e-6,"type":"quantitative","scale":{"type":"log","domain":[0.0001,1000],"nice":false},"axis":null},"text":{"field":"label"}}},
{"data":{"values":[{"label":"Tsui Ka Ming, ICRR"}]},"mark":{"type":"text","align":"left","baseline":"alphabetic","font":"Lato","fontSize":13,"fill":"#c4a46c"},
"encoding":{"x":{"datum":1.567e-3,"type":"quantitative","scale":{"type":"log","domain":[0.0001,1],"nice":false},"axis":null},"y":{"datum":4.41e-6,"type":"quantitative","scale":{"type":"log","domain":[0.0001,1000],"nice":false},"axis":null},"text":{"field":"label"}}},
{"data":{"values":[{"label":"05/07/2018"}]},"mark":{"type":"text","align":"left","baseline":"alphabetic","font":"Lato","fontSize":13,"fill":"#c4a46c"},
"encoding":{"x":{"datum":0.448,"type":"quantitative","scale":{"type":"log","domain":[0.0001,1],"nice":false},"axis":null},"y":{"datum":4.41e-6,"type":"quantitative","scale":{"type":"log","domain":[0.0001,1000],"nice":false},"axis":null},"text":{"field":"label"}}}
],
"resolve":{"scale":{"stroke":"independent"},"axis":{"x":"independent","y":"independent"}},
"config":{"view":{"stroke":null},"font":"Liberation Sans"}
}
